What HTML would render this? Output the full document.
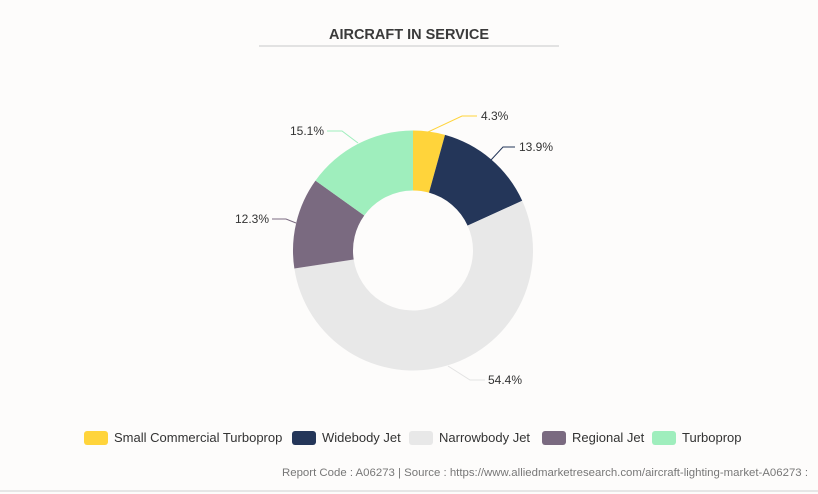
<!DOCTYPE html>
<html><head><meta charset="utf-8"><style>
body{margin:0;background:#fdfcfb;}
svg{display:block;font-family:"Liberation Sans",sans-serif;}
</style></head><body>
<svg id="s" width="818" height="494" viewBox="0 0 818 494">
<rect width="818" height="494" fill="#fdfcfb"/>
<text x="409" y="39" text-anchor="middle" font-size="14.5" font-weight="bold" fill="#3a3a3a">AIRCRAFT IN SERVICE</text>
<line x1="259" y1="46" x2="559" y2="46" stroke="#c8c8c8" stroke-width="1"/>
<g id="pie"></g>
<g fill="none" stroke-width="1">
<polyline points="428,132 462,116 477,116" stroke="#ffd43b"/>
<polyline points="491,160 503,147 515,147" stroke="#243659"/>
<polyline points="448,366 470,380 485,380" stroke="#e3e3e3"/>
<polyline points="296,223 286,219 272,219" stroke="#7a6a80"/>
<polyline points="358,143 342,131 327,131" stroke="#9feebd"/>
</g>
<g font-size="12" fill="#333">
<text x="481" y="120">4.3%</text>
<text x="519" y="151">13.9%</text>
<text x="488" y="384">54.4%</text>
<text x="269" y="223" text-anchor="end">12.3%</text>
<text x="324" y="135" text-anchor="end">15.1%</text>
</g>
<g font-size="13" fill="#333">
<rect x="84" y="431" width="24" height="14" rx="3" fill="#ffd43b"/><text x="114" y="442">Small Commercial Turboprop</text>
<rect x="292" y="431" width="24" height="14" rx="3" fill="#243659"/><text x="322" y="442">Widebody Jet</text>
<rect x="409" y="431" width="24" height="14" rx="3" fill="#e8e8e8"/><text x="439" y="442">Narrowbody Jet</text>
<rect x="542" y="431" width="24" height="14" rx="3" fill="#7a6a80"/><text x="572" y="442">Regional Jet</text>
<rect x="652" y="431" width="24" height="14" rx="3" fill="#9feebd"/><text x="682" y="442">Turboprop</text>
</g>
<text x="808" y="476" text-anchor="end" font-size="11" fill="#777" textLength="526" lengthAdjust="spacingAndGlyphs">Report Code : A06273  |  Source : https://www.alliedmarketresearch.com/aircraft-lighting-market-A06273 :</text>
<line x1="0" y1="491" x2="818" y2="491" stroke="#e6e6e6" stroke-width="2"/>
</svg>
<script>
var cx=413,cy=250.5,R=120,r=60;
var d=[[0.043,"#ffd43b"],[0.139,"#243659"],[0.544,"#e8e8e8"],[0.123,"#7a6a80"],[0.151,"#9feebd"]];
var a=0,g=document.getElementById("pie"),h="";
function p(rad,t){var an=t*2*Math.PI-Math.PI/2;return [cx+rad*Math.cos(an),cy+rad*Math.sin(an)];}
d.forEach(function(s){var b=a+s[0];var l=s[0]>0.5?1:0;
var o1=p(R,a),o2=p(R,b),i1=p(r,b),i2=p(r,a);
h+='<path fill="'+s[1]+'" d="M'+o1+' A'+R+','+R+' 0 '+l+' 1 '+o2+' L'+i1+' A'+r+','+r+' 0 '+l+' 0 '+i2+' Z"/>';a=b;});
g.innerHTML=h;
</script>
</body></html>
